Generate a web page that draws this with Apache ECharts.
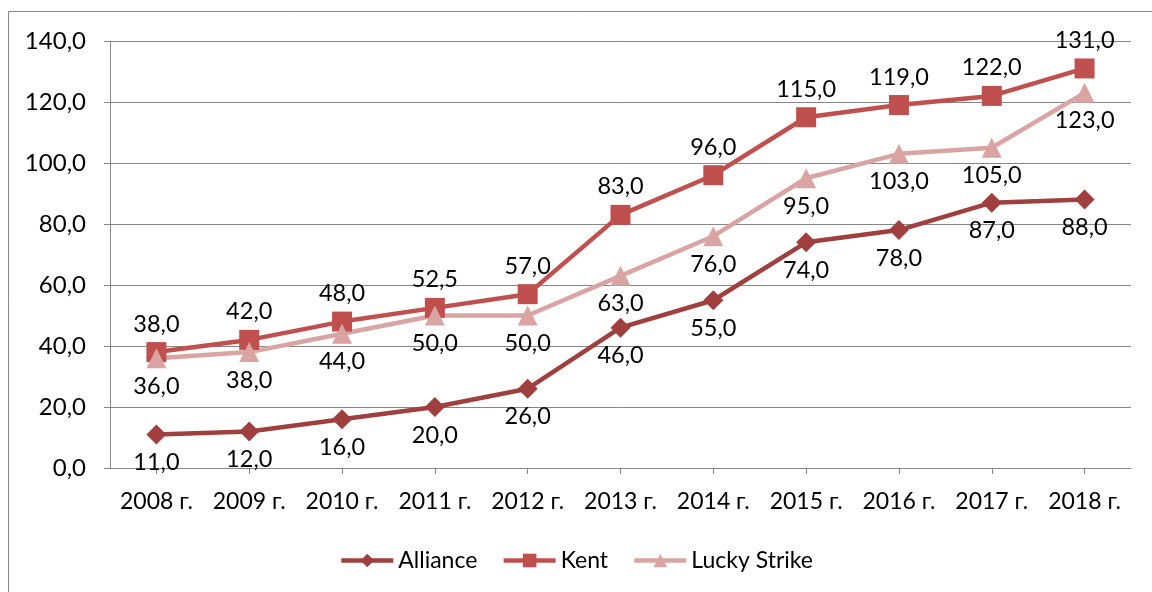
<!DOCTYPE html>
<html><head><meta charset="utf-8">
<script src="https://cdn.jsdelivr.net/npm/echarts@6/dist/echarts.min.js"></script>
<style>html,body{margin:0;padding:0;background:#fff}#c{width:1152px;height:592px}</style>
</head><body><div id="c"></div>
<script>
const categories = ['2008 г.','2009 г.','2010 г.','2011 г.','2012 г.','2013 г.','2014 г.','2015 г.','2016 г.','2017 г.','2018 г.'];
const alliance = [11,12,16,20,26,46,55,74,78,87,88];
const kent = [38,42,48,52.5,57,83,96,115,119,122,131];
const lucky = [36,38,44,50,50,63,76,95,103,105,123];
const yTicks = [0,20,40,60,80,100,120,140];
const FONT = 'Lato';
const fmt = v => v.toFixed(1).replace('.', ',');
const chart = echarts.init(document.getElementById('c'), null, {renderer:'canvas'});
function ser(name, data, color, symbol, size, pos) {
  return {
    name, type:'line', data, symbol, symbolSize:size,
    lineStyle:{color, width:4.5}, itemStyle:{color},
    label:{show:true, position:pos, distance:6, color:'#000', fontFamily:FONT, fontSize:23.5,
      formatter:p=>fmt(p.value)},
    z: 2
  };
}
chart.setOption({
  animation:false,
  graphic:[{type:'rect', shape:{x:8.5,y:11.5,width:1200,height:700}, style:{fill:null, stroke:'#868686', lineWidth:1}, silent:true}],
  grid:{left:110, right:21, top:41, bottom:124},
  legend:{top:544, left:'center', itemWidth:52, itemHeight:17, itemGap:24,
    lineStyle:{width:4.5},
    textStyle:{fontFamily:FONT, fontSize:23, color:'#000'},
    data:['Alliance','Kent','Lucky Strike']},
  xAxis:{type:'category', data:categories, boundaryGap:true,
    axisLine:{lineStyle:{color:'#868686', width:1}},
    axisTick:{show:true, alignWithLabel:true, interval:0, length:6, lineStyle:{color:'#868686'}},
    axisLabel:{interval:0, color:'#000', fontFamily:FONT, fontSize:23, margin:22}},
  yAxis:{type:'value', min:yTicks[0], max:yTicks[yTicks.length-1], interval:yTicks[1]-yTicks[0],
    axisLine:{show:true, lineStyle:{color:'#868686', width:1}},
    axisTick:{show:true, length:6, lineStyle:{color:'#868686'}},
    splitLine:{lineStyle:{color:'#868686', width:1}},
    axisLabel:{color:'#000', fontFamily:FONT, fontSize:24, margin:24, formatter:v=>fmt(v)}},
  series:[
    ser('Alliance', alliance, '#A0403E', 'diamond', 20, 'bottom'),
    ser('Kent', kent, '#C0504D', 'rect', 20, 'top'),
    ser('Lucky Strike', lucky, '#D9A4A2', 'triangle', 20, 'bottom')
  ]
});
</script></body></html>
